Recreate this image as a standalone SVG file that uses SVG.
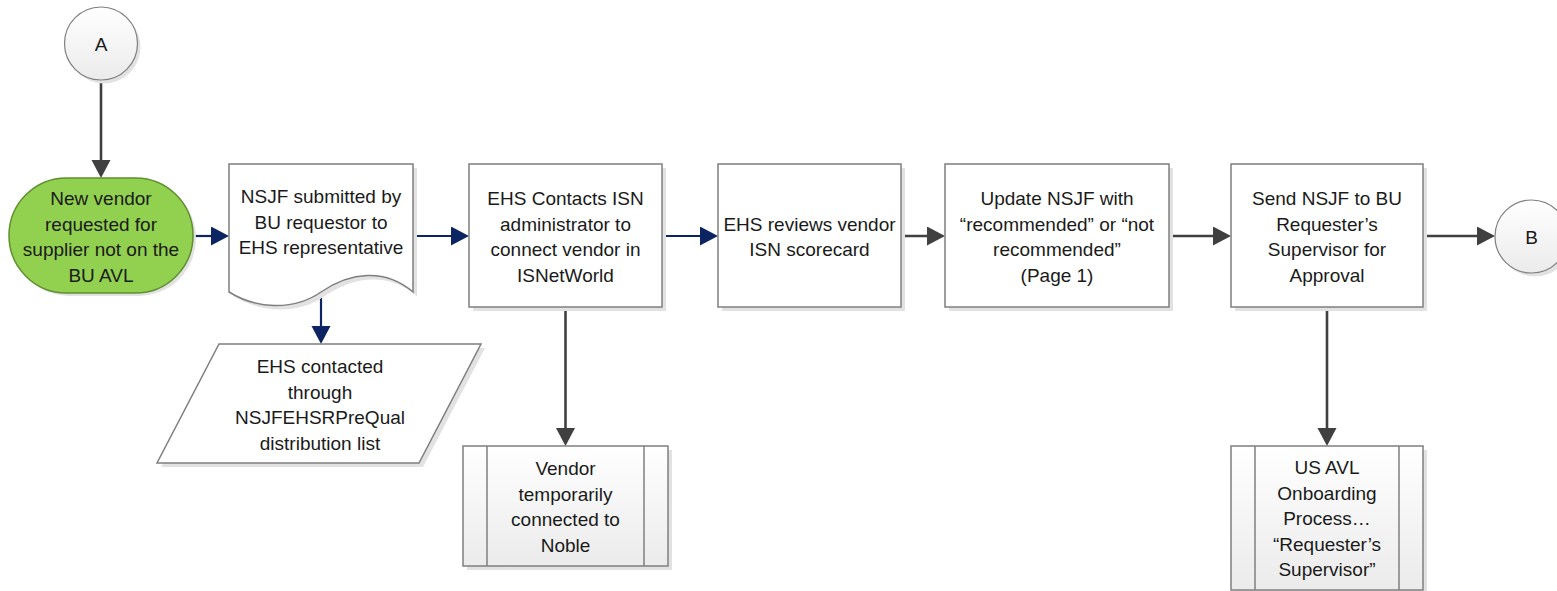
<svg xmlns="http://www.w3.org/2000/svg" width="1557" height="591" viewBox="0 0 1557 591">
  <defs>
    <style>
      .box { fill: #ffffff; stroke: #7f7f7f; stroke-width: 1.5; }
      .sub { fill: url(#softGrey); stroke: #7f7f7f; stroke-width: 1.5; }
      .bar { stroke: #7f7f7f; stroke-width: 1.5; }
      .conn { fill: url(#softGrey); stroke: #7f7f7f; stroke-width: 1.2; }
      .shadow { fill: #e2e2e2; stroke: none; }
      .start { fill: #92d050; stroke: #5f8f2f; stroke-width: 1.5; }
      .lbl { font-family: "Liberation Sans", Arial, sans-serif; font-size: 19px; fill: #1a1a1a; text-anchor: middle; }
      .navy { stroke: #0c2461; stroke-width: 2.2; fill: none; }
      .dark { stroke: #404040; stroke-width: 2.6; fill: none; }
    </style>
    <linearGradient id="softGrey" x1="0" y1="0" x2="0" y2="1">
      <stop offset="0" stop-color="#ffffff"/>
      <stop offset="1" stop-color="#ebebeb"/>
    </linearGradient>
    <marker id="arrNavy" markerUnits="userSpaceOnUse" markerWidth="20" markerHeight="20" refX="8" refY="9.5" orient="auto">
      <path d="M0,0 L18,9.5 L0,19 Z" fill="#0c2461"/>
    </marker>
    <marker id="arrDark" markerUnits="userSpaceOnUse" markerWidth="20" markerHeight="20" refX="8" refY="9.5" orient="auto">
      <path d="M0,0 L18,9.5 L0,19 Z" fill="#404040"/>
    </marker>
  </defs>

  <!-- connectors -->
  <g id="connectors">
    <line class="dark" x1="101" y1="80" x2="101" y2="168" marker-end="url(#arrDark)"/>
    <line class="navy" x1="193" y1="236" x2="219" y2="236" marker-end="url(#arrNavy)"/>
    <line class="navy" x1="413" y1="236" x2="459" y2="236" marker-end="url(#arrNavy)"/>
    <line class="navy" x1="321" y1="292" x2="321" y2="334" marker-end="url(#arrNavy)"/>
    <line class="navy" x1="662" y1="236" x2="708" y2="236" marker-end="url(#arrNavy)"/>
    <line class="dark" x1="901" y1="236" x2="935" y2="236" marker-end="url(#arrDark)"/>
    <line class="dark" x1="1169" y1="236" x2="1221" y2="236" marker-end="url(#arrDark)"/>
    <line class="dark" x1="1423" y1="236" x2="1485" y2="236" marker-end="url(#arrDark)"/>
    <line class="dark" x1="565.5" y1="307" x2="565.5" y2="436" marker-end="url(#arrDark)"/>
    <line class="dark" x1="1327" y1="307" x2="1327" y2="436" marker-end="url(#arrDark)"/>
  </g>

  <!-- off-page connector A -->
  <g id="node-a">
    <circle class="shadow" cx="104" cy="47" r="36.5"/>
    <circle class="conn" cx="101" cy="43.5" r="36.5"/>
    <text class="lbl" x="101" y="50.5">A</text>
  </g>

  <!-- start terminator -->
  <g id="node-start">
    <rect class="shadow" x="12" y="181" width="184" height="115" rx="57.5"/>
    <rect class="start" x="9" y="178" width="184" height="115" rx="57.5"/>
    <text class="lbl" x="101" y="205">New vendor</text>
    <text class="lbl" x="101" y="230.5">requested for</text>
    <text class="lbl" x="101" y="256">supplier not on the</text>
    <text class="lbl" x="101" y="281.5">BU AVL</text>
  </g>

  <!-- document -->
  <g id="node-nsjf-submitted">
    <path class="shadow" d="M233,168 H417 V296 C389,272 354,276 325,296 C296,316 259,312 233,296 Z"/>
    <path class="box" d="M229,164 H413 V292 C385,268 350,272 321,292 C292,312 255,308 229,292 Z"/>
    <text class="lbl" x="321" y="203">NSJF submitted by</text>
    <text class="lbl" x="321" y="229">BU requestor to</text>
    <text class="lbl" x="321" y="254">EHS representative</text>
  </g>

  <!-- data (parallelogram) -->
  <g id="node-ehs-contacted">
    <path class="shadow" d="M223,348 H485 L423,467 H161 Z"/>
    <path class="box" d="M219,344 H481 L419,463 H157 Z"/>
    <text class="lbl" x="320" y="373">EHS contacted</text>
    <text class="lbl" x="320" y="399">through</text>
    <text class="lbl" x="320" y="424">NSJFEHSRPreQual</text>
    <text class="lbl" x="320" y="450">distribution list</text>
  </g>

  <g id="node-contacts-isn">
    <rect class="shadow" x="473" y="168" width="193" height="143"/>
    <rect class="box" x="469" y="164" width="193" height="143"/>
    <text class="lbl" x="565.5" y="205">EHS Contacts ISN</text>
    <text class="lbl" x="565.5" y="230.5">administrator to</text>
    <text class="lbl" x="565.5" y="256">connect vendor in</text>
    <text class="lbl" x="565.5" y="281.5">ISNetWorld</text>
  </g>

  <g id="node-reviews">
    <rect class="shadow" x="722" y="168" width="183" height="143"/>
    <rect class="box" x="718" y="164" width="183" height="143"/>
    <text class="lbl" x="809.5" y="230.5">EHS reviews vendor</text>
    <text class="lbl" x="809.5" y="256">ISN scorecard</text>
  </g>

  <g id="node-update">
    <rect class="shadow" x="949" y="168" width="224" height="143"/>
    <rect class="box" x="945" y="164" width="224" height="143"/>
    <text class="lbl" x="1057" y="205">Update NSJF with</text>
    <text class="lbl" x="1057" y="230.5">“recommended” or “not</text>
    <text class="lbl" x="1057" y="256">recommended”</text>
    <text class="lbl" x="1057" y="281.5">(Page 1)</text>
  </g>

  <g id="node-send">
    <rect class="shadow" x="1235" y="168" width="192" height="143"/>
    <rect class="box" x="1231" y="164" width="192" height="143"/>
    <text class="lbl" x="1327" y="205">Send NSJF to BU</text>
    <text class="lbl" x="1327" y="230.5">Requester’s</text>
    <text class="lbl" x="1327" y="256">Supervisor for</text>
    <text class="lbl" x="1327" y="281.5">Approval</text>
  </g>

  <!-- off-page connector B -->
  <g id="node-b">
    <circle class="shadow" cx="1535" cy="240" r="36.5"/>
    <circle class="conn" cx="1531.5" cy="236.5" r="36.5"/>
    <text class="lbl" x="1531.5" y="243.5">B</text>
  </g>

  <!-- predefined processes -->
  <g id="node-vendor-noble">
    <rect class="shadow" x="467" y="450" width="205" height="120"/>
    <rect class="sub" x="463" y="446" width="205" height="120"/>
    <line class="bar" x1="487" y1="446" x2="487" y2="566"/>
    <line class="bar" x1="644" y1="446" x2="644" y2="566"/>
    <text class="lbl" x="565.5" y="475">Vendor</text>
    <text class="lbl" x="565.5" y="500.5">temporarily</text>
    <text class="lbl" x="565.5" y="526">connected to</text>
    <text class="lbl" x="565.5" y="551.5">Noble</text>
  </g>

  <g id="node-us-avl">
    <rect class="shadow" x="1235" y="450" width="192" height="145"/>
    <rect class="sub" x="1231" y="446" width="192" height="144"/>
    <line class="bar" x1="1255" y1="446" x2="1255" y2="590"/>
    <line class="bar" x1="1399" y1="446" x2="1399" y2="590"/>
    <text class="lbl" x="1327" y="474">US AVL</text>
    <text class="lbl" x="1327" y="499.5">Onboarding</text>
    <text class="lbl" x="1327" y="525">Process…</text>
    <text class="lbl" x="1327" y="550.5">“Requester’s</text>
    <text class="lbl" x="1327" y="576">Supervisor”</text>
  </g>
</svg>
